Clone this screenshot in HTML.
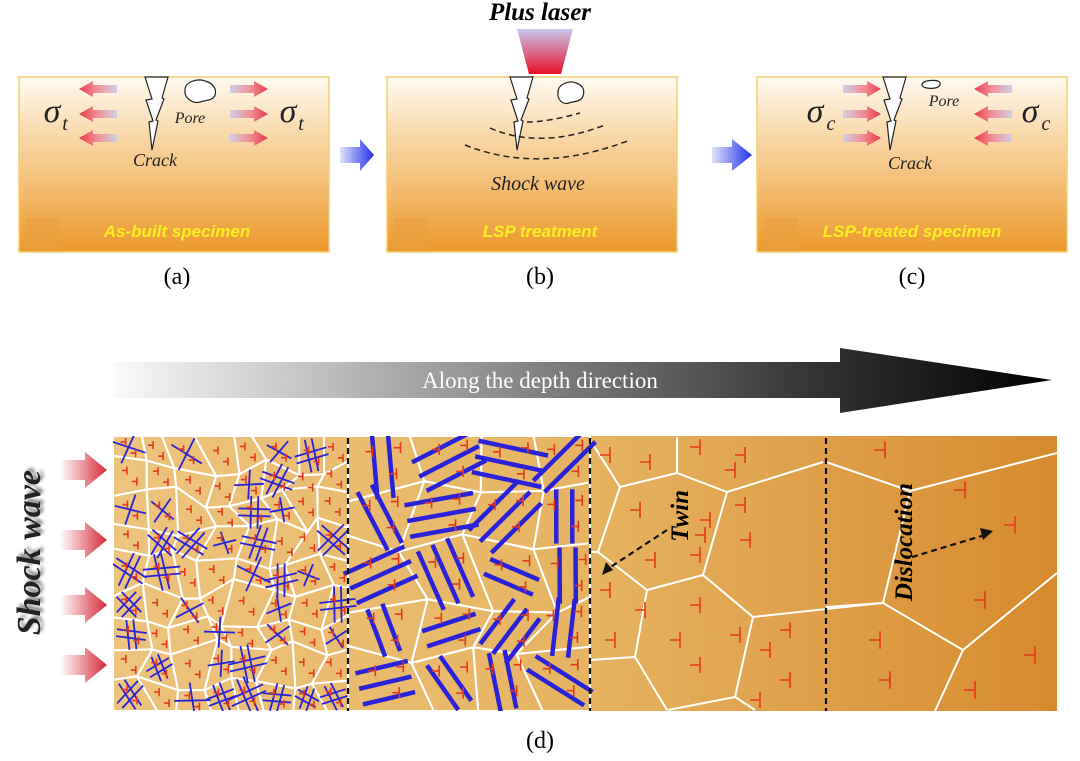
<!DOCTYPE html>
<html><head><meta charset="utf-8"><style>
html,body{margin:0;padding:0;background:#fff;}
body{width:1080px;height:756px;overflow:hidden;position:relative;font-family:"Liberation Serif",serif;}
</style></head><body>
<svg id="s" width="1080" height="756" viewBox="0 0 1080 756" xmlns="http://www.w3.org/2000/svg">
<defs>
<clipPath id="cp"><rect x="113" y="436" width="944" height="275"/></clipPath>
<linearGradient id="pan" x1="0" y1="0" x2="0" y2="1">
<stop offset="0" stop-color="#fffaf2"/><stop offset="0.3" stop-color="#f9dcb0"/><stop offset="1" stop-color="#ec982c"/></linearGradient>
<linearGradient id="blu" x1="0" x2="1"><stop offset="0" stop-color="#dfe3fb"/><stop offset="1" stop-color="#2230ea"/></linearGradient>
<linearGradient id="redl" x1="0" x2="1"><stop offset="0" stop-color="#e8283c"/><stop offset="0.5" stop-color="#f08a96"/><stop offset="1" stop-color="#c8cce8"/></linearGradient>
<linearGradient id="redr" x1="1" x2="0"><stop offset="0" stop-color="#e8283c"/><stop offset="0.5" stop-color="#f08a96"/><stop offset="1" stop-color="#c8cce8"/></linearGradient>
<linearGradient id="las" x1="0" y1="0" x2="0" y2="1"><stop offset="0" stop-color="#c8c8ee"/><stop offset="1" stop-color="#e8102a"/></linearGradient>
<linearGradient id="big" x1="0" x2="1"><stop offset="0" stop-color="#fafafa"/><stop offset="0.75" stop-color="#333"/><stop offset="1" stop-color="#000"/></linearGradient>
<linearGradient id="bg" x1="0" x2="1"><stop offset="0" stop-color="#edc47e"/><stop offset="0.5" stop-color="#e6b462"/><stop offset="1" stop-color="#d68a2e"/></linearGradient>
<linearGradient id="sw" x1="0" x2="1"><stop offset="0" stop-color="#fff"/><stop offset="1" stop-color="#d6283a"/></linearGradient>
</defs>
<text x="540" y="20" font-size="25" font-weight="bold" font-style="italic" text-anchor="middle">Plus laser</text>
<polygon points="517,29 573,29 561,74 529,74" fill="url(#las)"/>
<g id="panels"></g>
<polygon points="340,147 360,147 360,139 374,155 360,171 360,163 340,163" fill="url(#blu)"/>
<polygon points="712,147 732,147 732,139 752,155 732,171 732,163 712,163" fill="url(#blu)"/>
<text x="177" y="284" font-size="24" text-anchor="middle">(a)</text>
<text x="540" y="284" font-size="24" text-anchor="middle">(b)</text>
<text x="912" y="284" font-size="24" text-anchor="middle">(c)</text>
<polygon points="113,362 840,362 840,348 1052,380 840,413 840,398 113,398" fill="url(#big)"/>
<text x="540" y="388" font-size="23" fill="#fff" text-anchor="middle">Along the  depth direction</text>
<rect x="113" y="436" width="944" height="275" fill="url(#bg)"/>
<g clip-path="url(#cp)">
<g id="grains" stroke="#fff" stroke-width="2" fill="none" stroke-linejoin="round"></g>
<g id="blue" stroke="#2a22d8" stroke-linecap="butt"></g>
<g id="red" stroke="#e43a1c" stroke-width="1.6" fill="none"></g>
</g>
<g stroke="#111" stroke-width="2.2" stroke-dasharray="6,4">
<line x1="348" y1="438" x2="348" y2="711"/><line x1="590" y1="438" x2="590" y2="711"/><line x1="826" y1="438" x2="826" y2="711"/>
<line x1="667" y1="530" x2="606" y2="570"/><line x1="912" y1="557" x2="985" y2="535"/></g>
<polygon points="602,575 606,562 613,570" fill="#111"/><polygon points="993,531 980,528 983,540" fill="#111"/>
<text transform="translate(688,490) rotate(-90)" font-size="25" font-weight="bold" font-style="italic" text-anchor="end">Twin</text>
<text transform="translate(912,483) rotate(-90)" font-size="25" font-weight="bold" font-style="italic" text-anchor="end">Dislocation</text>
<g id="sws"></g>
<text transform="translate(40,470) rotate(-90)" font-size="34" font-weight="bold" font-style="italic" text-anchor="end" fill="#222" style="text-shadow:3px 3px 3px #888">Shock wave</text>
<text x="540" y="748" font-size="24" text-anchor="middle">(d)</text>
</svg>
<script>
var NS="http://www.w3.org/2000/svg";
function el(p,t,a){var e=document.createElementNS(NS,t);for(var k in a)e.setAttribute(k,a[k]);document.getElementById(p).appendChild(e);return e;}
var seed=11;function R(){seed=(seed*16807)%2147483647;return (seed-1)/2147483646;}
var P=[[19,310],[387,290],[757,310]];
P.forEach(function(p){var x=p[0],w=p[1];
el("panels","rect",{x:x,y:77,width:w,height:175,fill:"url(#pan)",stroke:"#f0d070","stroke-width":1.5});
el("panels","rect",{x:x+7,y:218,width:34,height:33,fill:"#e9a040",opacity:.6});
});
function txt(x,y,s,fs,extra){var t=el("panels","text",Object.assign({x:x,y:y,"font-size":fs,"text-anchor":"middle"},extra||{}));t.textContent=s;return t;}
function crack(cx){el("panels","polygon",{points:(cx-5)+",77 "+(cx+18)+",77 "+(cx+12)+",98 "+(cx+14)+",99 "+(cx+6)+",120 "+(cx+8)+",121 "+(cx+2)+",150 "+(cx-1)+",122 "+(cx+3)+",121 "+(cx-4)+",100 "+(cx+2)+",99",fill:"#fff",stroke:"#222","stroke-width":1.2});}
crack(150);crack(515);crack(888);
function arrows(x,dir,ys){ys.forEach(function(y){var pts=dir<0?[x,y,x+14,y-8,x+14,y-4,x+38,y-4,x+38,y+4,x+14,y+4,x+14,y+8]:[x+38,y,x+24,y-8,x+24,y-4,x,y-4,x,y+4,x+24,y+4,x+24,y+8];el("panels","polygon",{points:pts.join(","),fill:dir<0?"url(#redl)":"url(#redr)",opacity:.9});});}
arrows(79,-1,[89,114,138]);arrows(230,1,[89,114,138]);
arrows(843,1,[89,114,138]);arrows(974,-1,[89,114,138]);
var e1={"font-style":"italic","fill":"#222"};
txt(52,122,"σ",34,e1);txt(65,130,"t",20,e1);
txt(288,122,"σ",34,e1);txt(301,130,"t",20,e1);
txt(815,122,"σ",34,e1);txt(831,130,"c",20,e1);
txt(1030,122,"σ",34,e1);txt(1046,130,"c",20,e1);
txt(190,123,"Pore",16,e1);txt(155,166,"Crack",18,e1);
txt(944,106,"Pore",16,e1);txt(910,169,"Crack",18,e1);
txt(538,190,"Shock wave",20,e1);
el("panels","path",{d:"M185,90 c0,-8 12,-12 20,-9 c8,2 12,8 10,14 c-2,6 -10,5 -15,7 c-6,2 -16,-3 -15,-12z",fill:"#fff",stroke:"#222","stroke-width":1.2});
el("panels","path",{d:"M558,92 c0,-8 12,-12 18,-9 c7,2 9,8 7,13 c-2,6 -9,5 -14,7 c-6,2 -12,-3 -11,-11z",fill:"#fff",stroke:"#222","stroke-width":1.2});
el("panels","path",{d:"M922,84 c2,-4 12,-4 16,-3 c4,2 2,6 -3,7 c-5,1 -14,0 -13,-4z",fill:"#fff",stroke:"#222","stroke-width":1.2});
["M527,122 Q548,122 580,113","M490,128 Q540,150 605,125","M465,145 Q540,175 630,140"].forEach(function(d){el("panels","path",{d:d,fill:"none",stroke:"#222","stroke-width":1.5,"stroke-dasharray":"6,4"});});
var yb={"font-style":"italic","font-weight":"bold","fill":"#f8f020","font-family":"Liberation Sans, sans-serif"};
txt(177,237,"As-built specimen",17,yb);txt(540,237,"LSP treatment",17,yb);txt(912,237,"LSP-treated specimen",17,yb);
[470,540,605,665].forEach(function(y){el("sws","polygon",{points:[60,y-10,85,y-10,85,y-18,107,y,85,y+18,85,y+10,60,y+10].join(","),fill:"url(#sw)"});});
function grid(x0,x1,y0,y1,nx,ny,jit){var dx=(x1-x0)/nx,dy=(y1-y0)/ny,V=[];
for(var i=0;i<=nx;i++){V[i]=[];for(var j=0;j<=ny;j++){var inx=(i>0&&i<nx),iny=(j>0&&j<ny);var x=x0+i*dx+(inx?(R()-.5)*dx*jit+(j%2?dx*0.3:0):0);var y=y0+j*dy+(iny?(R()-.5)*dy*jit:0);V[i][j]=[x,y];}}
var cells=[];
for(var i=0;i<nx;i++)for(var j=0;j<ny;j++){var a=V[i][j],b=V[i+1][j],c=V[i+1][j+1],d=V[i][j+1];
el("grains","polygon",{points:[a,b,c,d].map(function(p){return p.join(",")}).join(" ")});
cells.push([(a[0]+b[0]+c[0]+d[0])/4,(a[1]+b[1]+c[1]+d[1])/4,dx,dy]);}
return cells;}
function mark(x,y,s){el("red","path",{d:"M"+(x-s)+","+y+"H"+x+"M"+x+","+(y-s*0.8)+"V"+(y+s*0.8)});}
function ln(cx,cy,a,L,off,w){var ox=Math.cos(a+Math.PI/2)*off,oy=Math.sin(a+Math.PI/2)*off;
el("blue","line",{x1:cx+ox-Math.cos(a)*L/2,y1:cy+oy-Math.sin(a)*L/2,x2:cx+ox+Math.cos(a)*L/2,y2:cy+oy+Math.sin(a)*L/2,"stroke-width":w});}
var c1=grid(113,348,436,711,8,9,0.7);
c1.forEach(function(c,i){mark(c[0]-3,c[1]-5,5);mark(c[0]+7,c[1]+6,5);
var r=R();if(r<0.55){var a=R()*Math.PI,L=c[2]*(0.8+R()*0.5);var n=R()<0.5?1:2;
for(var k=0;k<2;k++){var b=a+k*Math.PI/2+(R()-.5)*0.3;for(var m=0;m<n;m++){ln(c[0],c[1],b,L,(m-(n-1)/2)*7,1.8);}}}});
var c2=grid(348,590,436,711,4,5,0.45);
c2.forEach(function(c){mark(c[0]-10,c[1]-12,7);mark(c[0]+14,c[1]+10,7);mark(c[0]+18,c[1]-16,7);
var a=R()*Math.PI,L=c[2]*(0.8+R()*0.4),n=R()<0.5?2:3;for(var m=0;m<n;m++)ln(c[0],c[1],a,L,(m-(n-1)/2)*16,4.5);});
["590,440 620,487 677,473 727,492 823,462","677,437 677,473","620,487 598,552 647,590 703,575 727,492","703,575 753,617 882,603","647,590 635,657 667,710","753,617 735,697 668,710","735,697 755,710","590,660 635,657","590,552 598,552",
 "826,462 910,491 1057,453","910,491 883,603 963,650 1057,573","963,650 935,711","883,603 826,607"].forEach(function(p){el("grains","polyline",{points:p});});
[[610,455],[650,462],[700,447],[745,455],[640,510],[710,520],[745,505],[655,560],[705,535],[750,540],[700,555],[645,610],[700,605],[680,640],[700,665],[740,635],[770,650],[790,630],[790,680],[760,700],[610,590],[615,640],[735,470]].forEach(function(p){mark(p[0],p[1],10);});
[[885,450],[965,490],[1015,525],[985,600],[1035,655],[880,640],[890,680],[975,690]].forEach(function(p){mark(p[0],p[1],11);});
</script>
</body></html>
